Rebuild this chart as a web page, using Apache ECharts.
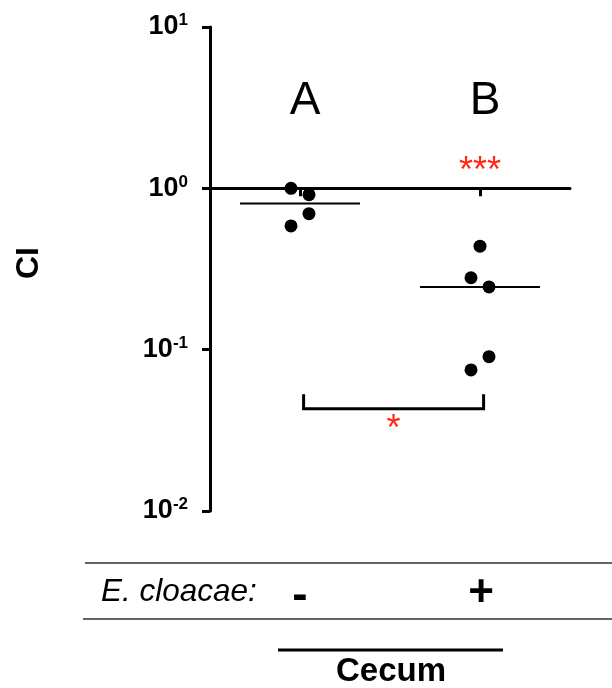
<!DOCTYPE html>
<html><head><meta charset="utf-8">
<script src="https://cdn.jsdelivr.net/npm/echarts@6/dist/echarts.min.js"></script>
<style>html,body{margin:0;padding:0;background:#fff}#c{width:612px;height:688px}</style>
</head><body><div id="c"></div>
<script>
// ---- data ----
const groups = ['A', 'B'];
const ciA = [1.0, 0.914, 0.697, 0.585];
const ciB = [0.438, 0.279, 0.245, 0.0905, 0.0749];
const jitterA = [-0.05, 0.05, 0.05, -0.05];
const jitterB = [0, -0.05, 0.05, 0.05, -0.05];
const yMin = 0.01, yMax = 10;
const refValue = 1;
const bracketY = 0.043, bracketTipY = 0.053;
const tableLabel = 'E. cloacae:';
const tableSigns = ['-', '+'];
const tissue = 'Cecum';
const sigBvsRef = '***';
const sigAvsB = '*';

// ---- chart ----
const FONT = '"Liberation Sans", Arial, Helvetica, sans-serif';
const RED = '#ff2a14';
const G = {left: 210, right: 42, top: 27, bottom: 177};
const gridH = 688 - G.top - G.bottom;
const axisOffset = -gridH * Math.log10(yMax / refValue) / Math.log10(yMax / yMin);

function median(a) {
  const s = [...a].sort((x, y) => x - y), n = s.length;
  return n % 2 ? s[(n - 1) / 2] : (s[n / 2 - 1] + s[n / 2]) / 2;
}
const pts = [];
ciA.forEach((v, i) => pts.push([0.5 + jitterA[i], v]));
ciB.forEach((v, i) => pts.push([1.5 + jitterB[i], v]));
const meds = [[0.5, median(ciA)], [1.5, median(ciB)]];

const chart = echarts.init(document.getElementById('c'), null, {renderer: 'canvas'});
const option = {
  animation: false,
  backgroundColor: '#fff',
  grid: G,
  xAxis: [
    {type: 'value', min: 0, max: 2, show: false},
    {type: 'category', data: groups, position: 'top', offset: axisOffset,
     axisLine: {show: true, lineStyle: {color: '#000', width: 3}},
     axisTick: {show: true, inside: true, length: 8, alignWithLabel: true, lineStyle: {color: '#000', width: 3}},
     axisLabel: {show: true, margin: 64, fontSize: 46, color: '#000', fontFamily: FONT, padding: [0, 0, 0, 10]},
     splitLine: {show: false}}
  ],
  yAxis: {
    type: 'log', logBase: 10, min: yMin, max: yMax,
    axisLine: {show: true, lineStyle: {color: '#000', width: 3}},
    axisTick: {show: true, length: 8, lineStyle: {color: '#000', width: 3}},
    minorTick: {show: false}, splitLine: {show: false},
    axisLabel: {
      margin: 22,
      formatter: v => '{b|10}{s|' + Math.round(Math.log10(v)) + '}',
      rich: {
        b: {fontSize: 27, fontWeight: 'bold', fontFamily: FONT, color: '#000', lineHeight: 30},
        s: {fontSize: 17, fontWeight: 'bold', fontFamily: FONT, color: '#000', verticalAlign: 'top', lineHeight: 17}
      }
    },
    name: 'CI', nameLocation: 'middle', nameRotate: 90, nameGap: 165,
    nameTextStyle: {fontSize: 32, fontWeight: 'bold', fontFamily: FONT, color: '#000', padding: [0, 0, 0, 12]}
  },
  series: [
    {type: 'scatter', xAxisIndex: 0, yAxisIndex: 0, data: pts, symbolSize: 13,
     itemStyle: {color: '#000', opacity: 1}, z: 3},
    {type: 'scatter', xAxisIndex: 0, yAxisIndex: 0, data: meds, symbol: 'rect', symbolSize: [120, 2],
     itemStyle: {color: '#000', opacity: 1}, z: 2}
  ]
};
chart.setOption(option);

const toPx = p => chart.convertToPixel({xAxisIndex: 0, yAxisIndex: 0}, p);
const ref = toPx([1.5, refValue]);
const bl0 = toPx([0.52, bracketTipY]), bl1 = toPx([0.52, bracketY]);
const br1 = toPx([1.52, bracketY]), br0 = toPx([1.52, bracketTipY]);
const txt = (t, x, y, size, opts) => Object.assign({
  type: 'text', silent: true,
  style: Object.assign({text: t, x: x, y: y, fontSize: size, fontFamily: FONT, fill: '#000',
    align: 'center', verticalAlign: 'middle'}, opts || {})
});
const gr = [
  {type: 'polyline', shape: {points: [bl0, bl1, br1, br0]}, style: {stroke: '#000', lineWidth: 3, fill: null}},
  txt(sigBvsRef, ref[0], ref[1] - 16, 36, {fill: RED}),
  txt(sigAvsB, (bl1[0] + br1[0]) / 2, bl1[1] + 21, 36, {fill: RED}),
  {type: 'line', shape: {x1: 85, y1: 563, x2: 612, y2: 563}, style: {stroke: '#333', lineWidth: 1.3}},
  {type: 'line', shape: {x1: 83, y1: 619, x2: 612, y2: 619}, style: {stroke: '#333', lineWidth: 1.3}},
  txt(tableLabel, 101, 592, 31.5, {align: 'left', fontStyle: 'italic'}),
  txt(tableSigns[0], 300, 596, 46, {fontWeight: 'bold'}),
  txt(tableSigns[1], 481, 594, 44, {fontWeight: 'bold'}),
  {type: 'line', shape: {x1: 278, y1: 650, x2: 503, y2: 650}, style: {stroke: '#000', lineWidth: 3}},
  txt(tissue, 391, 672, 33, {fontWeight: 'bold'})
];
chart.setOption({graphic: gr});
</script></body></html>
